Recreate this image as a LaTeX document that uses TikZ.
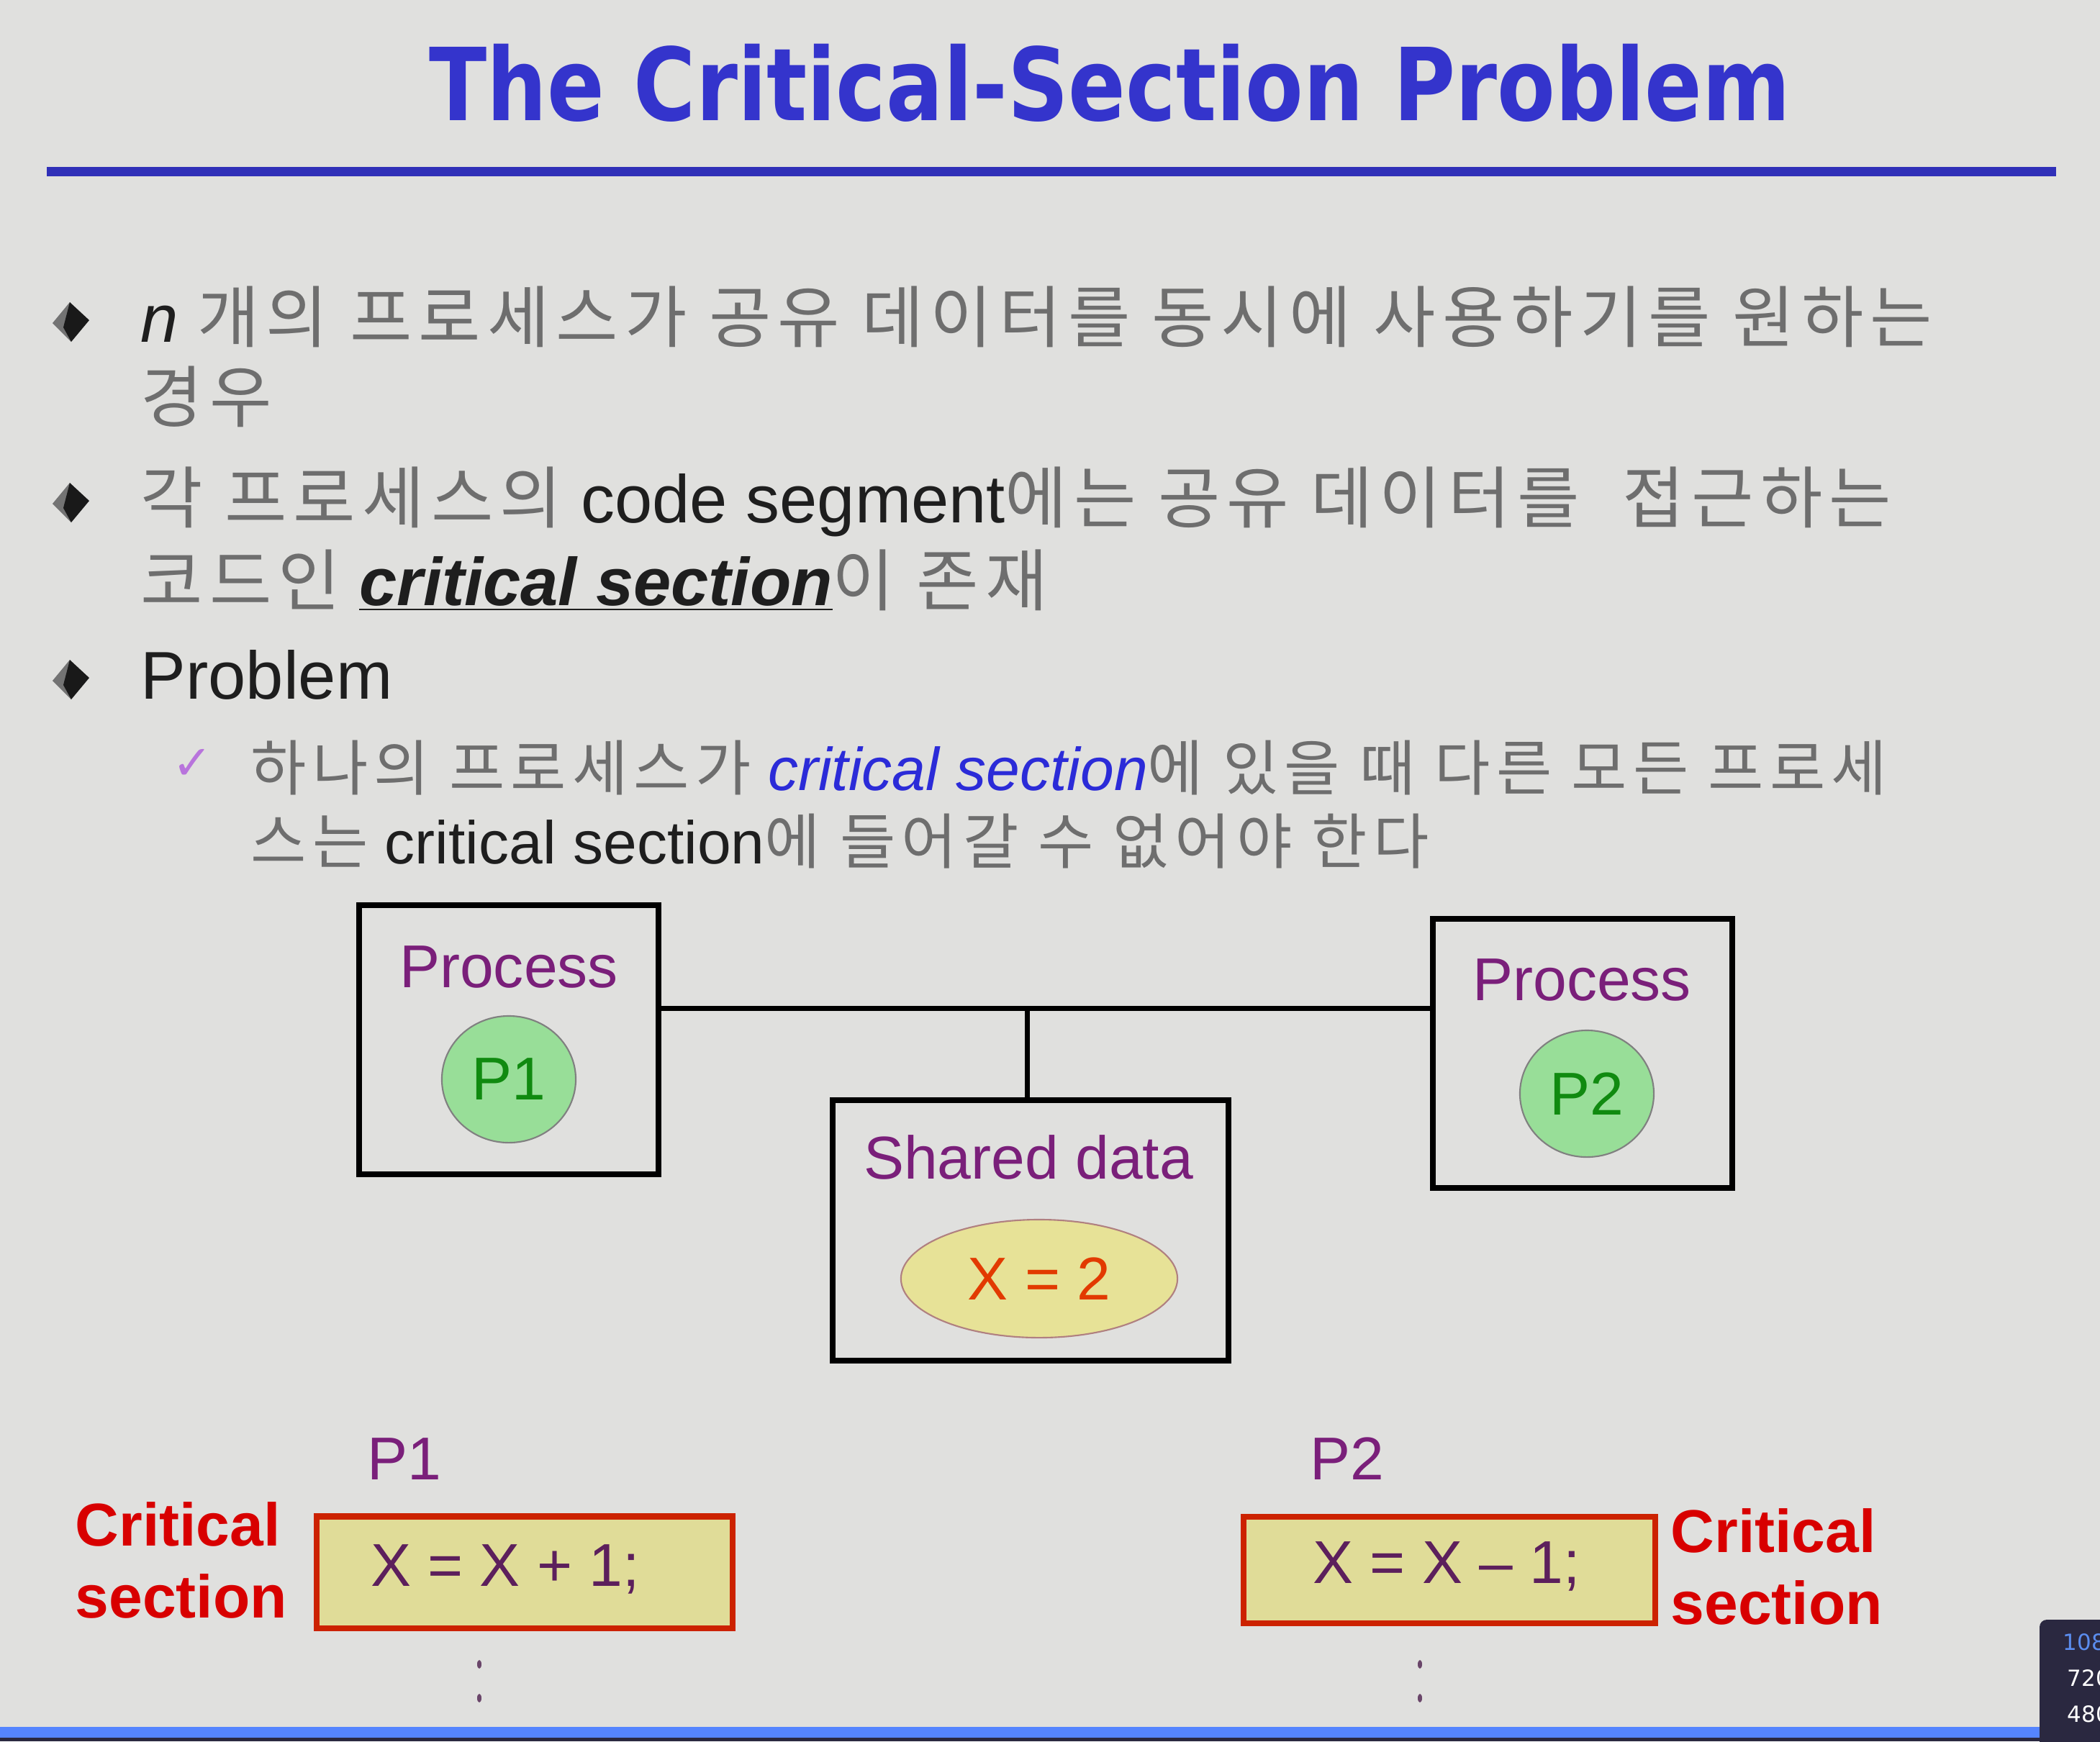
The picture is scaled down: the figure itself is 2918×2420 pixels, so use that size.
\documentclass[tikz,border=0pt]{standalone}
\usepackage{fontspec}
\setmainfont{Liberation Sans}
\newfontfamily\kr{Noto Sans CJK KR}[LetterSpace=9.8]
\newfontfamily\djsans{DejaVu Sans}
\usetikzlibrary{shapes.geometric}
\definecolor{bg}{HTML}{E0E0DE}
\definecolor{titleblue}{HTML}{3434CC}
\definecolor{rulecol}{HTML}{3030B8}
\definecolor{krgray}{HTML}{6E6E6E}
\definecolor{txtblack}{HTML}{1E1E1E}
\definecolor{procpurple}{HTML}{7A1F7A}
\definecolor{greenfill}{HTML}{98DE98}
\definecolor{greentext}{HTML}{108A10}
\definecolor{yellowfill}{HTML}{E7E297}
\definecolor{ellborder}{HTML}{B08080}
\definecolor{csred}{HTML}{D80000}
\definecolor{csborder}{HTML}{CC2200}
\definecolor{csfill}{HTML}{E0DC98}
\definecolor{codetext}{HTML}{5C1F5C}
\definecolor{xred}{HTML}{E23A00}
\definecolor{checkcol}{HTML}{B874DC}
\definecolor{blueital}{HTML}{2B2BD8}
\definecolor{barblue}{HTML}{5585FF}
\definecolor{darkstrip}{HTML}{2A2840}
\definecolor{resblue}{HTML}{5B8DEF}
\newcommand\bodyfont{\fontsize{26.7pt}{32pt}\selectfont}
\newcommand\subfont{\fontsize{23.9pt}{28pt}\selectfont}
\newcommand\diafont{\fontsize{23.9pt}{28.45pt}\selectfont}
\newcommand\kor[1]{{\kr\color{krgray}#1}}
\tikzset{
  txt/.style={inner sep=0pt, anchor=base west, font=\bodyfont, text=txtblack},
  subtxt/.style={inner sep=0pt, anchor=base west, font=\subfont, text=txtblack},
  bulletdark/.style={fill=black!90},
  bulletlight/.style={fill=black!55},
  procbox/.style={draw=black, line width=2.3pt, minimum width=4.15cm, minimum height=3.74cm, inner sep=0pt},
  proclabel/.style={inner sep=0pt, font=\diafont, text=procpurple},
  pcircle/.style={ellipse, draw=gray, line width=0.6pt, fill=greenfill, minimum width=1.86cm, minimum height=1.76cm, inner sep=0pt, font=\diafont, text=greentext},
  wire/.style={draw=black, line width=2pt},
  csbox/.style={draw=csborder, line width=2.3pt, fill=csfill, inner sep=0pt},
  cslabel/.style={inner sep=0pt, anchor=west, align=left, font={\diafont\bfseries}, text=csred},
  codelabel/.style={inner sep=0pt, font=\diafont, text=codetext},
  dotmark/.style={fill=codetext!60!gray},
  restxt/.style={inner sep=0pt, anchor=base west, font={\djsans\fontsize{8.8pt}{10pt}\selectfont}},
}
\begin{document}
\begin{tikzpicture}[x=0.01cm, y=-0.01cm]
\useasboundingbox (0,0) rectangle (2918,2420);
\fill[bg] (0,0) rectangle (2918,2420);
% title
\node[inner sep=0pt, anchor=base, text=titleblue, font={\djsans\bfseries\fontsize{39.8pt}{48pt}\selectfont}] (title) at (1542,167) {\scalebox{0.84}[1]{The Critical-Section Problem}};
\fill[rulecol] (65,232) rectangle (2857,245);
% bullets
\foreach \by in {447,698,944} {
  \fill[bulletlight] (97,\by-27) -- (73,\by+2) -- (99,\by+28) -- cycle;
  \fill[bulletdark] (97,\by-27) -- (124,\by-2) -- (99,\by+28) -- (88,\by+8) -- cycle;
}
\node[txt] (l1a) at (195,475) {\textit{n} \kor{개의 프로세스가 공유 데이터를 동시에 사용하기를 원하는}};
\node[txt] (l1b) at (195,586) {\kor{경우}};
\node[txt] (l2a) at (195,726) {\kor{각 프로세스의} code segment\kor{에는 공유 데이터를 \ 접근하는}};
\node[txt] (l2b) at (195,841) {\kor{코드인} \underline{\textbf{\textit{critical section}}}\kor{이 존재}};
\node[txt] (l3) at (195,971) {Problem};
\node[inner sep=0pt, text=checkcol, font={\djsans\fontsize{19pt}{22pt}\selectfont}] (chk) at (267,1062) {✓};
\node[subtxt] (s1a) at (348,1098) {\kor{하나의 프로세스가} \textcolor{blueital}{\textit{critical section}}\kor{에 있을 때 다른 모든 프로세}};
\node[subtxt] (s1b) at (348,1200) {\kor{스는} critical section\kor{에 들어갈 수 없어야 한다}};
% diagram
\node[procbox] (box1) at (707,1445) {};
\node[procbox] (box2) at (2199,1464) {};
\node[procbox, minimum width=5.49cm, minimum height=3.61cm] (shared) at (1432,1710) {};
\node[proclabel] (proc1) at (707,1344) {Process};
\node[pcircle] (p1) at (707,1500) {P1};
\node[proclabel] (proc2) at (2198,1362) {Process};
\node[pcircle] (p2) at (2205,1520) {P2};
\node[proclabel] (sdlabel) at (1429,1608) {Shared data};
\node[ellipse, draw=ellborder, line width=0.6pt, fill=yellowfill, minimum width=3.84cm, minimum height=1.64cm, inner sep=0pt, font=\diafont, text=xred] (xval) at (1444,1777) {X = 2};
\coordinate (junc) at (1427,1401);
\draw[wire] (junc -| box1.east) -- (junc -| box2.west);
\draw[wire] (junc) -- (junc |- shared.north);
% bottom code
\node[proclabel] (p1name) at (562,2028) {P1};
\node[proclabel] (p2name) at (1872,2027) {P2};
\node[csbox, minimum width=5.77cm, minimum height=1.55cm] (cs1) at (729,2185) {};
\node[codelabel] (code1) at (702,2181) {X = X + 1;};
\node[csbox, minimum width=5.71cm, minimum height=1.48cm] (cs2) at (2014,2182) {};
\node[codelabel] (code2) at (2010,2177) {X = X – 1;};
\node[cslabel] (csl) at (104,2168) {Critical\\section};
\node[cslabel] (csr) at (2321,2177) {Critical\\section};
\fill[dotmark] (666,2313) ellipse (3 and 6);
\fill[dotmark] (666,2360) ellipse (3 and 6);
\fill[dotmark] (1973,2313) ellipse (3 and 6);
\fill[dotmark] (1973,2360) ellipse (3 and 6);
% bottom bar and overlay
\fill[barblue] (0,2400) rectangle (2918,2415);
\fill[darkstrip] (0,2415) rectangle (2918,2420);
\fill[darkstrip, rounded corners=0.1cm] (2834,2251) rectangle (2980,2470);
\node[restxt, text=resblue] (r1080) at (2866,2293) {1080};
\node[restxt, text=white] (r720) at (2872,2343) {720};
\node[restxt, text=white] (r480) at (2872,2393) {480};
\end{tikzpicture}
\end{document}
